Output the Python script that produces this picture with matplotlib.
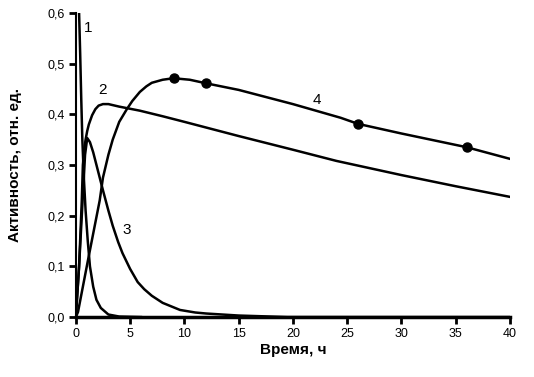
import matplotlib
matplotlib.use("Agg")
import matplotlib.pyplot as plt
from matplotlib.ticker import FuncFormatter

plt.rcParams['font.family'] = ['Liberation Sans', 'DejaVu Sans']

# curve 1 - fast decay from top
x1 = [0.2, 0.3, 0.4, 0.5, 0.6, 0.75, 0.9, 1.1, 1.3, 1.6, 1.9, 2.3, 3.0, 4.0, 6.0]
y1 = [0.7, 0.6, 0.52, 0.43, 0.35, 0.27, 0.21, 0.15, 0.10, 0.06, 0.034, 0.018, 0.005, 0.001, 0.0]

# curve 2
x2 = [0, 0.3, 0.55, 0.65, 0.8, 0.9, 1.05, 1.2, 1.5, 1.8, 2.1, 2.5, 3.0, 4.0, 5.9, 8, 10, 15,
      20, 24, 30, 35, 40]
y2 = [0, 0.10, 0.23, 0.30, 0.335, 0.35, 0.367, 0.38, 0.398, 0.41, 0.417, 0.42, 0.42, 0.415,
      0.407, 0.396, 0.385, 0.357, 0.33, 0.308, 0.28, 0.258, 0.237]

# curve 3
x3 = [0, 0.3, 0.6, 0.85, 1.05, 1.3, 1.6, 1.9, 2.5, 3.0, 3.4, 3.9, 4.3, 5.0, 5.7, 6.3, 7.0,
      8.0, 9.6, 11, 12, 15, 19.5, 40]
y3 = [0, 0.10, 0.22, 0.32, 0.353, 0.345, 0.325, 0.30, 0.25, 0.21, 0.18, 0.148, 0.126, 0.095,
      0.069, 0.055, 0.042, 0.028, 0.014, 0.009, 0.007, 0.003, 0.0, 0.0]

# curve 4
x4 = [0, 0.2, 1.1, 2.2, 2.5, 3.0, 3.4, 4.0, 4.7, 5.2, 5.9, 6.5, 7.0, 8.0, 9, 10.5, 12, 15,
      20, 24.4, 26, 30, 36, 40]
y4 = [0, 0.01, 0.11, 0.23, 0.275, 0.32, 0.35, 0.385, 0.41, 0.426, 0.444, 0.455, 0.462, 0.468,
      0.471, 0.468, 0.461, 0.448, 0.42, 0.393, 0.381, 0.362, 0.335, 0.312]

# measured points on curve 4
xp = [9, 12, 26, 36]
yp = [0.471, 0.461, 0.381, 0.335]

labels = ["1", "2", "3", "4"]
label_x = [1.1, 2.5, 4.7, 22.2]
label_y = [0.57, 0.448, 0.172, 0.428]

fig = plt.figure(figsize=(5.34, 3.77), dpi=100)
ax = fig.add_axes([0.142, 0.159, 0.813, 0.807])

for xs, ys in [(x1, y1), (x2, y2), (x3, y3), (x4, y4)]:
    ax.plot(xs, ys, color="black", lw=1.8, solid_joinstyle="round")
ax.plot(xp, yp, "o", color="black", ms=6.5)

for t, tx, ty in zip(labels, label_x, label_y):
    ax.text(tx, ty, t, fontsize=11, ha="center", va="center")

ax.set_xlim(0, 40)
ax.set_ylim(0, 0.6)
ax.set_xticks(range(0, 41, 5))
ax.set_yticks([0, 0.1, 0.2, 0.3, 0.4, 0.5, 0.6])
ax.yaxis.set_major_formatter(FuncFormatter(lambda v, p: ("%.1f" % v).replace(".", ",")))

for s in ["top", "right"]:
    ax.spines[s].set_visible(False)
ax.spines["left"].set_linewidth(1.5)
ax.spines["bottom"].set_linewidth(2.5)
ax.tick_params(direction="out", length=5, width=2, labelsize=9, pad=3)

ax.set_xlabel("Время, ч", fontsize=11, fontweight="bold", labelpad=2)
ax.set_ylabel("Активность, отн. ед.", fontsize=11, fontweight="bold", labelpad=18)

fig.savefig("out.png", dpi=100)
